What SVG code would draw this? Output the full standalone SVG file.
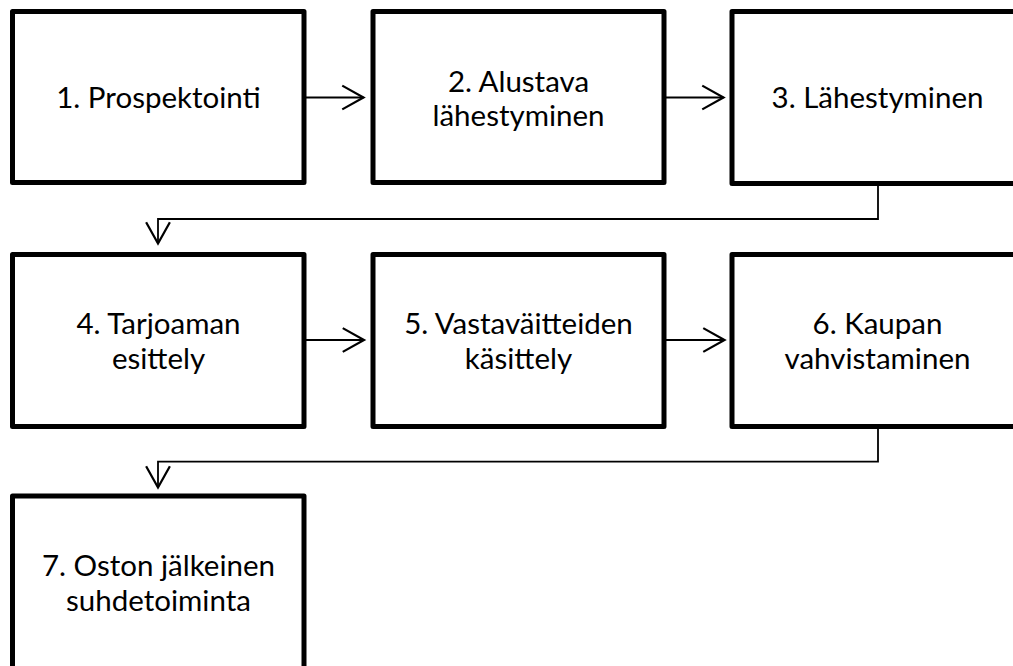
<svg xmlns="http://www.w3.org/2000/svg" width="1013" height="666" viewBox="0 0 1013 666">
<style>
.box{fill:#fff;stroke:#000;stroke-width:5;stroke-linejoin:round}
.lbl{font-family:Lato,"Open Sans","Liberation Sans",sans-serif;font-size:29.5px;fill:#000;text-anchor:middle}
.conn{fill:none;stroke:#000;stroke-width:1.8}
</style>
<defs>
<marker id="arr" markerUnits="userSpaceOnUse" markerWidth="30" markerHeight="30" viewBox="-20 -12 24 24" refX="0" refY="0" orient="auto">
<path d="M-17,-9.5 L0,0 L-17,9.5" fill="none" stroke="#000" stroke-width="1.8"/>
</marker>
</defs>
<rect width="1013" height="666" fill="#fff"/>
<g id="connectors">
<line class="conn" x1="304" y1="97.5" x2="363.5" y2="97.5" marker-end="url(#arr)"/>
<line class="conn" x1="664" y1="97.5" x2="723.5" y2="97.5" marker-end="url(#arr)"/>
<polyline class="conn" points="878,184 878,219 158,219 158,243.5" marker-end="url(#arr)"/>
<line class="conn" x1="304" y1="340" x2="364" y2="340" marker-end="url(#arr)"/>
<line class="conn" x1="664" y1="340" x2="724.5" y2="340" marker-end="url(#arr)"/>
<polyline class="conn" points="878,427 878,461.7 158,461.7 158,487.5" marker-end="url(#arr)"/>
</g>
<g id="node1"><rect class="box" x="12.5" y="11.5" width="291.5" height="171"/><text class="lbl" x="158.5" y="107.5">1. Prospektointi</text></g>
<g id="node2"><rect class="box" x="373" y="11.5" width="291" height="171"/><text class="lbl" x="518.5" y="91.5">2. Alustava<tspan x="518.5" dy="34.5">lähestyminen</tspan></text></g>
<g id="node3"><rect class="box" x="732" y="11.5" width="291" height="172"/><text class="lbl" x="877.5" y="107.5">3. Lähestyminen</text></g>
<g id="node4"><rect class="box" x="12.5" y="254.5" width="291.5" height="172"/><text class="lbl" x="158.5" y="334">4. Tarjoaman<tspan x="158.5" dy="34.5">esittely</tspan></text></g>
<g id="node5"><rect class="box" x="373" y="254.5" width="291" height="172"/><text class="lbl" x="518.5" y="334">5. Vastaväitteiden<tspan x="518.5" dy="34.5">käsittely</tspan></text></g>
<g id="node6"><rect class="box" x="732" y="254.5" width="291" height="172"/><text class="lbl" x="877.5" y="334">6. Kaupan<tspan x="877.5" dy="34.5">vahvistaminen</tspan></text></g>
<g id="node7"><rect class="box" x="12.5" y="496" width="291.5" height="180"/><text class="lbl" x="158.5" y="576">7. Oston jälkeinen<tspan x="158.5" dy="34.5">suhdetoiminta</tspan></text></g>
</svg>
